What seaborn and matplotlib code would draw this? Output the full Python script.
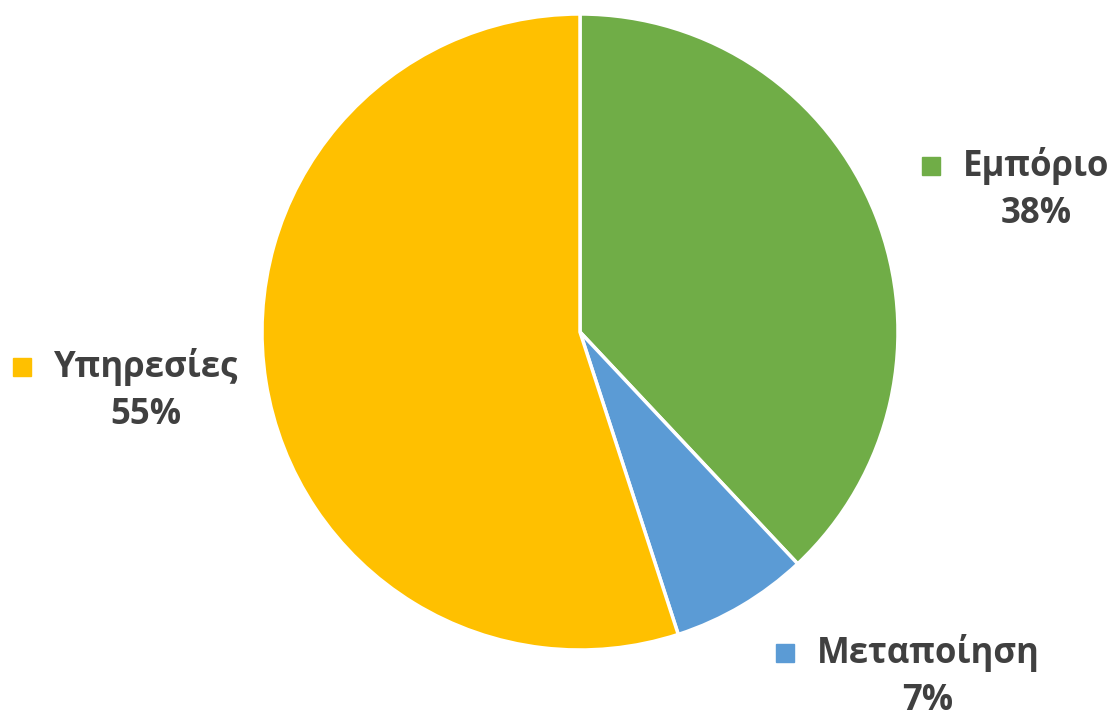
import matplotlib
matplotlib.use("Agg")
import matplotlib.pyplot as plt
import seaborn as sns

# Data
categories = ["Εμπόριο", "Μεταποίηση", "Υπηρεσίες"]
values = [38, 7, 55]
colors = ["#70AD47", "#5B9BD5", "#FFC000"]

sns.set_theme(style="white")
plt.rcParams["font.family"] = ["Open Sans", "DejaVu Sans"]

W, H = 1117, 718
fig = plt.figure(figsize=(W / 100, H / 100), dpi=100)
cx, cy, r = 580, 332, 318
ax = fig.add_axes([(cx - r) / W, (H - cy - r) / H, 2 * r / W, 2 * r / H])

wedges, _ = ax.pie(values, colors=colors, startangle=90, counterclock=False,
                   radius=1.0, wedgeprops=dict(edgecolor="white", linewidth=2.5))
ax.set_xlim(-1, 1)
ax.set_ylim(-1, 1)
ax.set_aspect("equal")
ax.axis("off")

# label layout (pixel positions of label centers in the figure)
label_pos = {"Εμπόριο": (1036, 166), "Μεταποίηση": (928, 653), "Υπηρεσίες": (146, 367)}
text_color = "#404040"
fs = 25

def to_data(px, py):
    return (px - cx) / r, (cy - py) / r

for cat, val, col in zip(categories, values, colors):
    px, py = label_pos[cat]
    x, y = to_data(px, py)
    t = ax.text(x, y, cat, ha="center", va="center", fontsize=fs, fontweight="bold",
                color=text_color, clip_on=False)
    x2, y2 = to_data(px, py + 48)
    ax.text(x2, y2, f"{val}%", ha="center", va="center", fontsize=fs, fontweight="bold",
            color=text_color, clip_on=False)
    # legend key square to the left of the category name
    fig.canvas.draw()
    bb = t.get_window_extent()
    sx = bb.x0 - 32
    sy = H - py
    ax.add_patch(plt.Rectangle(ax.transData.inverted().transform((sx - 9, sy - 9)),
                               18 / r, 18 / r, color=col, clip_on=False,
                               transform=ax.transData))

fig.savefig("out.png", dpi=100, facecolor="white")
